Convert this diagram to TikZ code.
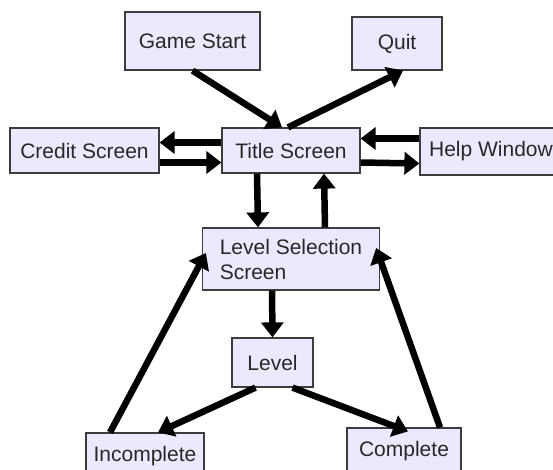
\documentclass[tikz,border=0pt]{standalone}
\usepackage{fontspec}
\setmainfont{Liberation Sans}
\usetikzlibrary{arrows.meta}
\definecolor{boxfill}{RGB}{236,233,254}
\definecolor{boxline}{RGB}{60,60,60}
\definecolor{boxtext}{RGB}{40,40,40}
\tikzset{
  box/.style={draw=boxline, fill=boxfill, line width=1.2pt, inner sep=0pt,
    text=boxtext, font=\fontsize{21}{25}\selectfont},
  arr/.style={line width=6.5pt, -{Triangle[length=15pt,width=22pt]}}
}
\begin{document}
\begin{tikzpicture}[x=1pt,y=-1pt]
        \useasboundingbox (0,0) rectangle (553,469);
        \node[box, minimum width=135pt, minimum height=58pt] (GS) at (192.5,41) {Game Start};
        \node[box, minimum width=90pt, minimum height=53pt] (Q) at (397,43.5) {Quit};
        \node[box, minimum width=149pt, minimum height=45pt] (CS) at (84.5,150.5) {Credit Screen};
        \node[box, minimum width=138pt, minimum height=45pt] (T) at (291,150.5) {Title Screen};
        \node[box, minimum width=142pt, minimum height=47pt] (H) at (491,151.5) {Help Window};
        \node[box, minimum width=177pt, minimum height=62pt, align=left] (LS) at (291,259) {Level Selection\\Screen};
        \node[box, minimum width=81pt, minimum height=49pt] (L) at (272.5,362.5) {Level};
        \node[box, minimum width=118pt, minimum height=47pt] (I) at (145,456.5) {Incomplete};
        \node[box, minimum width=114pt, minimum height=47pt] (C) at (404,451.5) {Complete};
        % top
        \draw[arr] (GS.south) -- ([xshift=-9pt]T.north);
        \draw[arr] ([xshift=-3pt]T.north) -- ([xshift=6pt]Q.south);
        % sides
        \draw[arr] ([yshift=8pt]T.west) -- ([yshift=8pt]CS.east);
        \draw[arr] ([yshift=-12pt]CS.east) -- ([yshift=-12pt]T.west);
        \draw[arr] ([yshift=13pt]H.west) -- ([yshift=12pt]T.east);
        \draw[arr] ([yshift=-12pt]T.east) -- ([yshift=-12pt]H.west);
        % middle
        \draw[arr] ([xshift=-34pt]T.south) -- ([xshift=-33pt]LS.north);
        \draw[arr] ([xshift=34pt]LS.north) -- ([xshift=33pt]T.south);
        \draw[arr] ([xshift=-19pt]LS.south) -- (L.north);
        % bottom
        \draw[arr] ([xshift=-17pt]L.south) -- ([xshift=13pt]I.north);
        \draw[arr] ([xshift=20pt]L.south) -- ([xshift=4pt,yshift=-4pt]C.north);
        \draw[arr] ([xshift=-35pt]I.north) -- ([xshift=4pt,yshift=6pt]LS.west);
        \draw[arr] ([xshift=36pt]C.north) -- ([xshift=-4pt,yshift=11pt]LS.east);
\end{tikzpicture}
\end{document}
